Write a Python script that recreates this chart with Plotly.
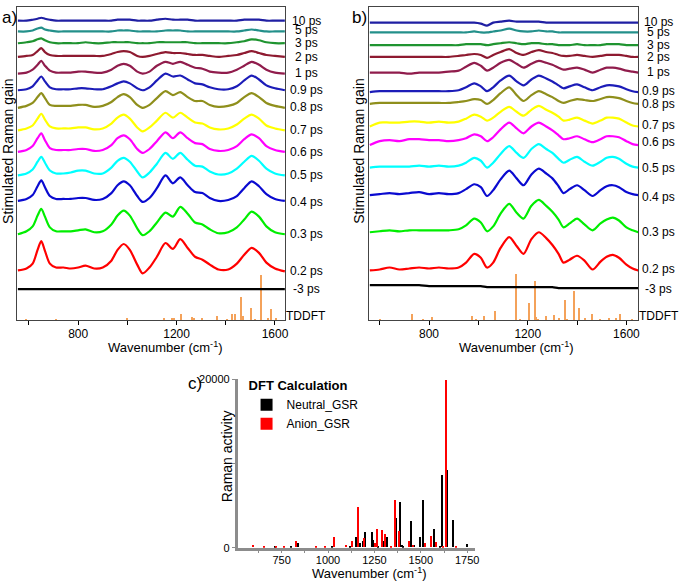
import plotly.graph_objects as go

# ---------------- data ----------------
labels = ['10 ps', '5 ps', '3 ps', '2 ps', '1 ps', '0.9 ps', '0.8 ps', '0.7 ps',
          '0.6 ps', '0.5 ps', '0.4 ps', '0.3 ps', '0.2 ps', '-3 ps', 'TDDFT']
colors = ['#1f1fa3', '#23908a', '#1f9430', '#8e1a30', '#901c4c', '#1c1cb8', '#8f8f1c',
          '#ffff00', '#ff00ff', '#00ffff', '#0a0ad0', '#00ee00', '#ff0000', '#000000']

# panel a (stack offsets, arbitrary gain units)
offsets_a = [306, 295, 283, 269, 252, 235, 217, 194, 172, 148, 122, 88, 50, 32]
label_y_a = [306, 296, 283, 269, 253, 235, 218, 194, 172, 148, 121, 88, 50, 32, 5]
xa = [555, 590, 615, 635, 650, 665, 685, 710, 740, 770, 800, 830, 865, 900, 935, 960, 985, 1010, 1040,
      1062, 1090, 1120, 1155, 1185, 1215, 1245, 1275, 1305, 1335, 1370, 1410, 1445, 1475, 1505, 1535,
      1565, 1600, 1640]
a_10ps = [0, 0, 1, 2, 3, 2, 1, 0, 0, 0, 0, 0, 0, 0, 0, 1, 1, 1, 0, 0, 0, 1, 2, 1, 1, 1, 0, 0, 0, 0,
          0, 0, 1, 1, 1, 0, 0, 0]
a_5ps = [0, 0, 1, 3, 4, 2, 1, 0, 0, 0, 0, 0, 0, 0, 0, 1, 1, 1, 0, 0, 0, 0, 1, 1, 1, 0, 0, 0, 0, 0,
         0, 0, 1, 2, 1, 0, 0, 0]
a_3ps = [0, 1, 2, 4, 5, 3, 1, 0, 0, 0, 0, 1, 0, 0, 1, 1, 1, 1, 0, 0, 0, 1, 1, 1, 1, 1, 0, 0, 0, 0,
         0, 1, 2, 4, 3, 1, 0, 0]
a_2ps = [0, 1, 2, 6, 9, 5, 2, 1, 1, 1, 1, 1, 1, 1, 3, 5, 6, 5, 1, 0, 1, 3, 5, 4, 4, 3, 2, 2, 1, 0,
         1, 2, 4, 6, 4, 2, 1, 0]
a_1ps = [0, 1, 4, 9, 13, 8, 3, 1, 1, 1, 2, 2, 1, 1, 4, 8, 10, 8, 2, 0, 2, 8, 12, 10, 12, 9, 6, 5, 2, 1,
         1, 4, 8, 12, 9, 4, 1, 0]
a_09ps = [0, 1, 4, 10, 14, 9, 3, 1, 1, 1, 2, 2, 1, 1, 4, 7, 9, 7, 2, 0, 3, 10, 17, 14, 15, 11, 7, 6, 3, 1,
          1, 4, 10, 15, 11, 5, 2, 0]
a_08ps = [0, 2, 5, 11, 15, 10, 3, 2, 2, 2, 3, 3, 1, 2, 6, 11, 14, 11, 3, 0, 3, 10, 17, 13, 16, 11, 7, 7, 3, 1,
          2, 5, 11, 15, 11, 5, 2, 0]
a_07ps = [0, 2, 5, 12, 17, 11, 4, 2, 2, 2, 3, 3, 1, 2, 7, 13, 16, 12, 3, -1, 3, 10, 18, 13, 18, 13, 8, 7, 3, 1,
          2, 6, 12, 16, 12, 5, 2, 0]
a_06ps = [0, 2, 6, 14, 19, 12, 4, 2, 2, 2, 3, 3, 1, 2, 7, 14, 17, 13, 3, -1, 3, 11, 20, 14, 20, 14, 9, 8, 3, 1,
          2, 6, 13, 18, 14, 6, 2, 0]
a_05ps = [0, 2, 6, 14, 19, 13, 5, 2, 2, 3, 5, 5, 2, 2, 8, 15, 18, 14, 4, -2, 3, 12, 23, 17, 23, 16, 10, 9, 4, 1,
          2, 7, 14, 20, 15, 7, 2, 0]
a_04ps = [0, 2, 6, 15, 21, 14, 5, 2, 2, 2, 3, 3, 1, 2, 8, 16, 20, 16, 5, -1, 3, 13, 26, 18, 24, 16, 9, 8, 3, 0,
          1, 5, 13, 20, 15, 7, 2, 0]
a_03ps = [0, 3, 8, 19, 26, 18, 7, 3, 3, 3, 4, 5, 2, 3, 10, 19, 24, 19, 6, -1, 3, 12, 22, 18, 28, 21, 12, 10, 5, 1,
          2, 7, 15, 23, 18, 8, 2, 0]
a_02ps = [1, 3, 8, 22, 31, 21, 8, 4, 4, 3, 4, 6, 3, 4, 11, 22, 28, 22, 7, -2, 4, 15, 29, 23, 33, 24, 15, 12, 7, 2,
          2, 8, 17, 24, 19, 9, 3, 0]
a_m3ps = [0] * 38
tddft_a_x = [590, 711, 1000, 1149, 1180, 1189, 1216, 1263, 1270, 1303, 1364, 1404, 1425, 1436, 1461, 1469,
             1503, 1519, 1542, 1570, 1584, 1604]
tddft_a_y = [1, 1, 2.3, 2.3, 2.3, 2, 6.5, 3.3, 2, 2.7, 4.3, 1.7, 6.7, 6.7, 24.3, 4.3, 12.7, 1.7, 46, 2.3,
             11.7, 2.7]

# panel b
offsets_b = [304, 294, 281, 269, 253, 233, 221, 198, 179, 156, 128, 90, 51, 35]
label_y_b = [305, 294, 281, 269, 254, 234, 221, 200, 182, 156, 126, 90, 52, 32, 5]
xb = [560, 600, 640, 680, 720, 760, 800, 840, 880, 920, 950, 983, 1010, 1035, 1060, 1090, 1125, 1155,
      1183, 1215, 1245, 1275, 1300, 1325, 1345, 1370, 1400, 1430, 1463, 1495, 1520, 1545, 1570, 1600,
      1625, 1648]
b_10ps = [0, 0, 0, 0, 0, 0, 0, 0, 0, 0, 0, 0, -1, -3, 0, 1, 2, 1, 1, 1, 1, 0, 0, 0, 0, 0, 0, 0, 0, 0,
          0, 0, 0, 0, 0, 0]
b_5ps = [0, 0, 0, 0, 0, 0, 0, 0, 0, 0, 0, 1, 0, 0, 1, 2, 4, 2, 1, 1, 2, 1, 1, 0, 0, 0, 0, 0, 0, 0,
         0, 0, 0, 0, 0, 0]
b_3ps = [0, 0, 0, 0, 0, 0, 0, 0, 0, 0, 1, 1, 1, 0, 1, 2, 3, 2, 1, 2, 2, 1, 1, 0, 0, 0, 1, 0, 0, 0,
         1, 1, 1, 0, 0, 0]
b_2ps = [0, 0, 0, 0, 0, 0, 0, 0, 0, 1, 2, 3, 2, -1, 2, 5, 8, 4, 2, 5, 7, 5, 4, 2, 1, 1, 2, 1, 0, 1,
         2, 2, 2, 1, 0, 0]
b_1ps = [0, 0, 0, 0, -1, 0, 0, 0, 1, 2, 6, 10, 7, 2, 5, 10, 13, 9, 5, 9, 12, 10, 8, 5, 3, 4, 5, 3, 0, 3,
         5, 5, 4, 2, 1, 0]
b_09ps = [0, 1, 1, 1, 1, 1, 1, 1, 1, 2, 5, 9, 6, 1, 5, 12, 17, 11, 7, 13, 17, 14, 11, 7, 4, 6, 8, 5, 2, 5,
          7, 7, 6, 3, 1, 0]
b_08ps = [0, 1, 1, 1, 1, 1, 1, 1, 1, 2, 3, 5, 4, 0, 4, 11, 17, 9, 3, 9, 13, 10, 7, 3, 1, 3, 5, 4, 3, 5,
          7, 7, 6, 3, 1, 0]
b_07ps = [0, 4, 4, 4, 5, 5, 4, 5, 4, 5, 8, 12, 10, 6, 9, 15, 20, 15, 11, 17, 21, 17, 14, 10, 6, 7, 9, 6, 3, 6,
          9, 9, 8, 4, 1, 0]
b_06ps = [0, 4, 5, 4, 6, 6, 5, 5, 4, 5, 7, 11, 9, 4, 8, 16, 23, 17, 12, 19, 23, 19, 15, 10, 6, 7, 9, 6, 3, 6,
          9, 9, 8, 4, 1, 0]
b_05ps = [0, 1, 1, 1, 1, 2, 1, 2, 1, 2, 5, 10, 7, 0, 5, 14, 22, 15, 10, 19, 24, 19, 15, 9, 5, 8, 11, 6, 2, 6,
          10, 11, 9, 4, 1, 0]
b_04ps = [0, 1, 2, 1, 2, 3, 1, 2, 1, 2, 6, 11, 8, -1, 5, 16, 25, 17, 10, 21, 27, 22, 17, 9, 2, 6, 10, 5, -1, 5,
          9, 10, 8, 3, 1, 0]
b_03ps = [0, 1, 2, 1, 2, 2, 2, 2, 2, 3, 7, 14, 10, 1, 6, 19, 29, 20, 14, 27, 33, 27, 21, 13, 5, 9, 14, 8, 2, 9,
          13, 15, 12, 5, 2, 0]
b_02ps = [0, 1, 3, 1, 2, 3, 2, 3, 2, 3, 8, 17, 13, 3, 8, 23, 34, 25, 17, 32, 39, 33, 26, 17, 8, 11, 15, 10, 1, 9,
          14, 16, 13, 6, 2, 0]
b_m3ps = [1, 1, 1, 1, 1, 1, 0, 0, 0, 0, 0, 0, 0, -1, -1, -1, -1, -1, -1, -1, -1, -1, -1, -2, -2, -2, -2, -2,
          -2, -2, -2, -2, -2, -2, -2, -2]
tddft_b_x = [600, 730, 777, 810, 974, 992, 1021, 1068, 1153, 1169, 1205, 1228, 1235, 1243, 1272, 1306, 1326,
             1350, 1360, 1387, 1407, 1433, 1460, 1494, 1528, 1558, 1572, 1621]
tddft_b_y = [1, 6.7, 1.7, 3.3, 5, 1.7, 4.3, 10, 47.7, 1.7, 17.3, 40, 4, 1.7, 4.3, 5.7, 2.3, 20.7, 1.7, 30,
             12.3, 2.7, 6.7, 1.7, 2.7, 2.3, 6.7, 1]

# panel c: DFT Raman activity
neutral_x = [714, 798, 839, 1019, 1119, 1148, 1173, 1187, 1200, 1236, 1241, 1268, 1300, 1305, 1318, 1366,
             1389, 1396, 1405, 1445, 1461, 1497, 1509, 1571, 1601, 1614, 1641, 1670, 1750]
neutral_y = [100, 190, 580, 120, 150, 1250, 500, 800, 1860, 1860, 900, 200, 800, 1100, 1280, 3490,
             5430, 300, 230, 3100, 300, 1280, 5660, 2250, 120, 8650, 9230, 3220, 390]
anion_x = [593, 656, 721, 763, 825, 932, 982, 1031, 1098, 1129, 1161, 1193, 1250, 1262, 1289, 1307, 1339,
           1359, 1384, 1438, 1455, 1523, 1555, 1580, 1620, 1636, 1691]
anion_y = [310, 190, 190, 190, 780, 230, 150, 1280, 310, 780, 4770, 1100, 500, 2250, 2130, 1550, 120,
           5630, 1940, 815, 300, 500, 1360, 700, 120, 19830, 120]

spectra_a = [a_10ps, a_5ps, a_3ps, a_2ps, a_1ps, a_09ps, a_08ps, a_07ps, a_06ps, a_05ps, a_04ps,
             a_03ps, a_02ps, a_m3ps]
spectra_b = [b_10ps, b_5ps, b_3ps, b_2ps, b_1ps, b_09ps, b_08ps, b_07ps, b_06ps, b_05ps, b_04ps,
             b_03ps, b_02ps, b_m3ps]

FONT = 'Liberation Sans, Arial, sans-serif'
W, H = 685, 585

fig = go.Figure()

# TDDFT sticks
fig.add_trace(go.Bar(x=tddft_a_x, y=tddft_a_y, width=5, marker=dict(color='#f4a25a', line_width=0),
                     xaxis='x', yaxis='y', showlegend=False))
fig.add_trace(go.Bar(x=tddft_b_x, y=tddft_b_y, width=5, marker=dict(color='#f4a25a', line_width=0),
                     xaxis='x2', yaxis='y2', showlegend=False))

for spec, off, col in zip(spectra_a, offsets_a, colors):
    fig.add_trace(go.Scatter(x=xa, y=[off + v for v in spec], mode='lines',
                             line=dict(color=col, width=2.2, shape='spline', smoothing=0.8),
                             xaxis='x', yaxis='y', showlegend=False))
for spec, off, col in zip(spectra_b, offsets_b, colors):
    fig.add_trace(go.Scatter(x=xb, y=[off + v for v in spec], mode='lines',
                             line=dict(color=col, width=2.2, shape='spline', smoothing=0.8),
                             xaxis='x2', yaxis='y2', showlegend=False))

fig.add_trace(go.Bar(x=neutral_x, y=neutral_y, width=8, name='Neutral_GSR',
                     marker=dict(color='#000000', line_width=0), xaxis='x3', yaxis='y3'))
fig.add_trace(go.Bar(x=anion_x, y=anion_y, width=8, name='Anion_GSR',
                     marker=dict(color='#ff0000', line_width=0), xaxis='x3', yaxis='y3'))

# delay labels
ann = []
for lab, ly in zip(labels, label_y_a):
    ann.append(dict(text=lab, xref='x domain', yref='y', x=1.078, y=ly, xanchor='center',
                    yanchor='middle', showarrow=False, font=dict(size=12, family=FONT, color='black')))
for lab, ly in zip(labels, label_y_b):
    ann.append(dict(text=lab, xref='x2 domain', yref='y2', x=1.077, y=ly, xanchor='center',
                    yanchor='middle', showarrow=False, font=dict(size=12, family=FONT, color='black')))


def note(text, px, py, size=13, angle=0, anchor='center'):
    ann.append(dict(text=text, xref='paper', yref='paper', x=px / W, y=1 - py / H, xanchor=anchor,
                    yanchor='middle', showarrow=False, textangle=angle,
                    font=dict(size=size, family=FONT, color='black')))


note('a)', 0, 12, 17, anchor='left')
note('b)', 352, 12, 17, anchor='left')
note('c)', 187, 385, 17, anchor='left')
note('Stimulated Raman gain', 8, 148, 14, angle=-90)
note('Stimulated Raman gain', 361, 148, 14, angle=-90)
note('Wavenumber (cm<sup>-1</sup>)', 166, 348, 13)
note('Wavenumber (cm<sup>-1</sup>)', 520, 348, 13)
note('Wavenumber (cm<sup>-1</sup>)', 372, 579, 13)
note('Raman activity', 228, 460, 14, angle=-90)

ab_x = dict(ticks='outside', ticklen=4, tickcolor='black', showgrid=False, zeroline=False,
            showline=True, linecolor='#444', linewidth=1, mirror=True, ticklabelstandoff=-2,
            tickvals=[600, 800, 1000, 1200, 1400, 1600], ticktext=['', '800', '', '1200', '', '1600'],
            tickfont=dict(size=12, family=FONT, color='black'))
ab_y = dict(range=[0, 320], showticklabels=False, ticks='', showgrid=False, zeroline=False,
            showline=True, linecolor='#444', linewidth=1, mirror=True,
            domain=[1 - 321 / H, 1 - 1 / H])

fig.update_layout(
    width=W, height=H, autosize=False,
    margin=dict(l=0, r=0, t=0, b=0),
    paper_bgcolor='white', plot_bgcolor='white',
    barmode='overlay', bargap=0,
    font=dict(family=FONT, color='black'),
    xaxis=dict(ab_x, domain=[17 / W, 287 / W], range=[551, 1642]),
    yaxis=dict(ab_y, anchor='x'),
    xaxis2=dict(ab_x, domain=[371 / W, 642 / W], range=[556, 1648], anchor='y2'),
    yaxis2=dict(ab_y, anchor='x2'),
    xaxis3=dict(domain=[239 / W, 478 / W], range=[513, 1793], anchor='y3',
                showline=True, linecolor='#8c8c8c', linewidth=2.5, showgrid=False, zeroline=False,
                ticks='outside', ticklen=3, tickcolor='#8c8c8c', ticklabelstandoff=-3,
                tickvals=[625, 750, 875, 1000, 1125, 1250, 1375, 1500, 1625, 1750],
                ticktext=['', '750', '', '1000', '', '1250', '', '1500', '', '1750'],
                tickfont=dict(size=11, family=FONT, color='black')),
    yaxis3=dict(domain=[1 - 553 / H, 1 - 381 / H], range=[0, 20000], anchor='x3',
                showline=True, linecolor='#8c8c8c', linewidth=2.5, showgrid=False, zeroline=False,
                ticks='outside', ticklen=3, tickcolor='#8c8c8c',
                tickvals=[0, 10000, 20000], ticktext=['0', '', '20000'],
                tickfont=dict(size=11, family=FONT, color='black')),
    legend=dict(x=248 / W, y=1 - 375 / H, xanchor='left', yanchor='top', bgcolor='rgba(0,0,0,0)',
                title=dict(text='<b>DFT Calculation</b>', font=dict(size=13, family=FONT), side='top'),
                font=dict(size=12, family=FONT), tracegroupgap=0, itemsizing='constant'),
    annotations=ann,
)

# the page's default 8px body margin would shift the figure
fig.write_html("out.html", config={'displayModeBar': False},
               post_script="document.body.style.margin='0';")
